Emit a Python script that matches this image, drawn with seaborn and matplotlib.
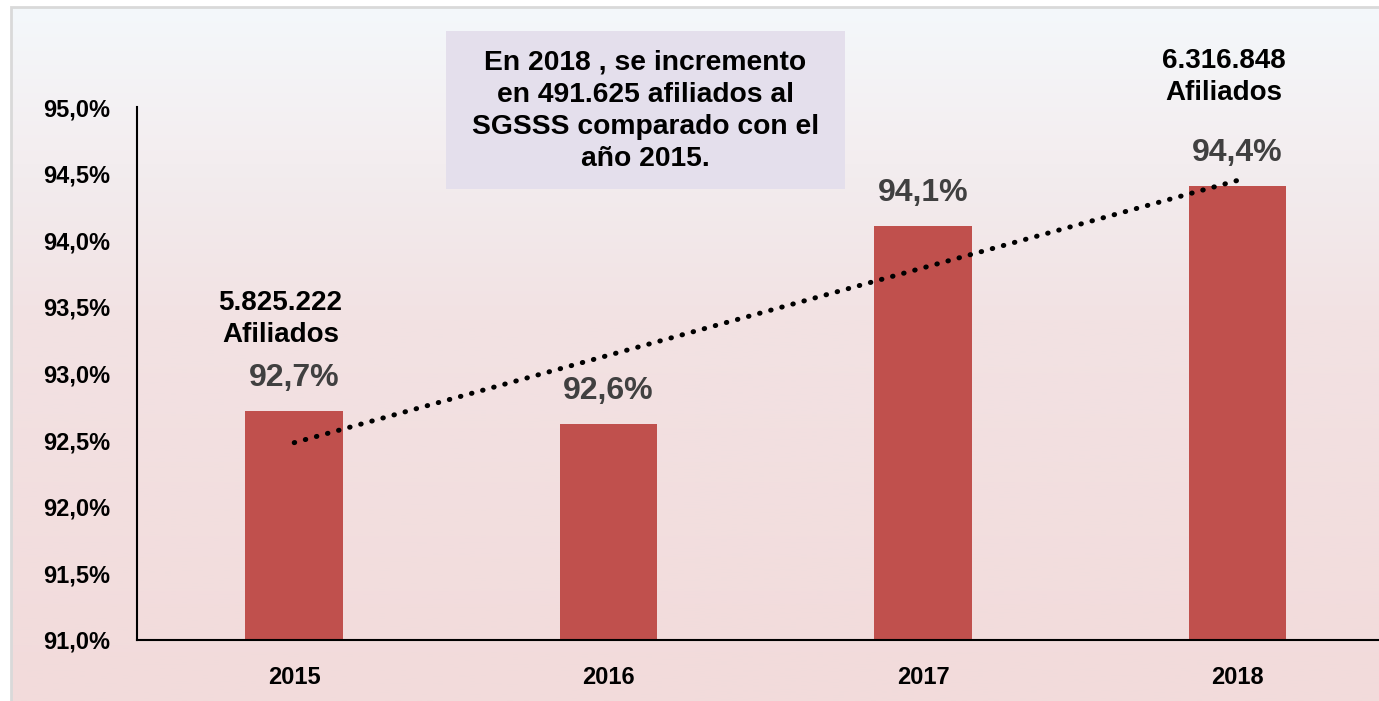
import numpy as np
import matplotlib
matplotlib.use("Agg")
import matplotlib.pyplot as plt
from matplotlib.colors import LinearSegmentedColormap
from matplotlib.patches import Rectangle
import seaborn as sns

# datos
anios = ['2015', '2016', '2017', '2018']
cobertura = [92.72, 92.62, 94.11, 94.41]
etiquetas = ['92,7%', '92,6%', '94,1%', '94,4%']
ticks_y = [91.0, 91.5, 92.0, 92.5, 93.0, 93.5, 94.0, 94.5, 95.0]
nota_2015 = '5.825.222\nAfiliados'
nota_2018 = '6.316.848\nAfiliados'
texto_caja = 'En 2018 , se incremento\nen 491.625 afiliados al\nSGSSS comparado con el\naño 2015.'

sns.set_theme(style='white')
plt.rcParams['font.family'] = ['Liberation Sans', 'DejaVu Sans']
plt.rcParams['font.weight'] = 'bold'

W, H = 1379, 701
fig = plt.figure(figsize=(W / 100, H / 100), dpi=100)
fig.patch.set_facecolor('white')

# fondo degradado (azul claro arriba, rosado abajo)
bg = fig.add_axes([11 / W, 0, 1 - 11 / W, 1 - 7 / H], zorder=0)
cmap = LinearSegmentedColormap.from_list(
    'fondo', [(0.0, '#F4F8FB'), (0.45, '#F2E2E3'), (1.0, '#F2DBDB')])
grad = np.linspace(0, 1, 256).reshape(-1, 1)
bg.imshow(grad, aspect='auto', cmap=cmap, extent=[0, 1, 0, 1], origin='upper')
bg.set_axis_off()
fig.patches.append(Rectangle((11 / W, -0.05), 1.1, 1 - 7 / H + 0.05,
                             transform=fig.transFigure, fill=False,
                             edgecolor='#D9D9D9', lw=2, zorder=5))

ax = fig.add_axes([137 / W, 61 / H, 1 - 137 / W, 533 / H], zorder=1)
ax.patch.set_alpha(0)

sns.barplot(x=anios, y=cobertura, color='#C0504D', saturation=1, width=0.31,
            linewidth=0, ax=ax)
ax.set_ylim(91, 95)
ax.set_xlim(-0.5, 3.45)
ax.set_yticks(ticks_y)
ax.set_yticklabels([f'{t:.1f}%'.replace('.', ',') for t in ticks_y])
ax.tick_params(axis='both', length=0, labelsize=17, pad=19)
for lab in ax.get_xticklabels() + ax.get_yticklabels():
    lab.set_fontweight('bold')
    lab.set_color('black')
ax.set_xlabel('')
ax.set_ylabel('')
for s in ['top', 'right']:
    ax.spines[s].set_visible(False)
for s in ['left', 'bottom']:
    ax.spines[s].set_color('black')
    ax.spines[s].set_linewidth(1.5)

# linea de tendencia lineal
xs = np.arange(len(cobertura))
m, b = np.polyfit(xs, cobertura, 1)
ax.plot(xs, m * xs + b, color='black', lw=3.6, linestyle=(0, (0.1, 2.2)),
        dash_capstyle='round', zorder=4)

# etiquetas de porcentaje
for i, (v, t) in enumerate(zip(cobertura, etiquetas)):
    ax.annotate(t, (i, v), xytext=(0, 13), textcoords='offset points',
                ha='center', va='bottom', fontsize=23, fontweight='bold',
                color='#404040')

ax.annotate(nota_2015, (0, cobertura[0]), xytext=(-10, 45), textcoords='offset points',
            ha='center', va='bottom', fontsize=20, fontweight='bold', color='black',
            linespacing=1.3, annotation_clip=False)
ax.annotate(nota_2018, (3, cobertura[3]), xytext=(-10, 57), textcoords='offset points',
            ha='center', va='bottom', fontsize=20, fontweight='bold', color='black',
            linespacing=1.3, annotation_clip=False)

# caja de texto
fig.patches.append(Rectangle((446 / W, 1 - 189 / H), 399 / W, 158 / H,
                             transform=fig.transFigure, facecolor='#E4DFEC',
                             edgecolor='none', zorder=2))
fig.text(645.5 / W, 1 - 111 / H, texto_caja, ha='center', va='center',
         fontsize=20.3, fontweight='bold', color='black',
         linespacing=1.3, zorder=3)

fig.savefig('out.png', dpi=100)
